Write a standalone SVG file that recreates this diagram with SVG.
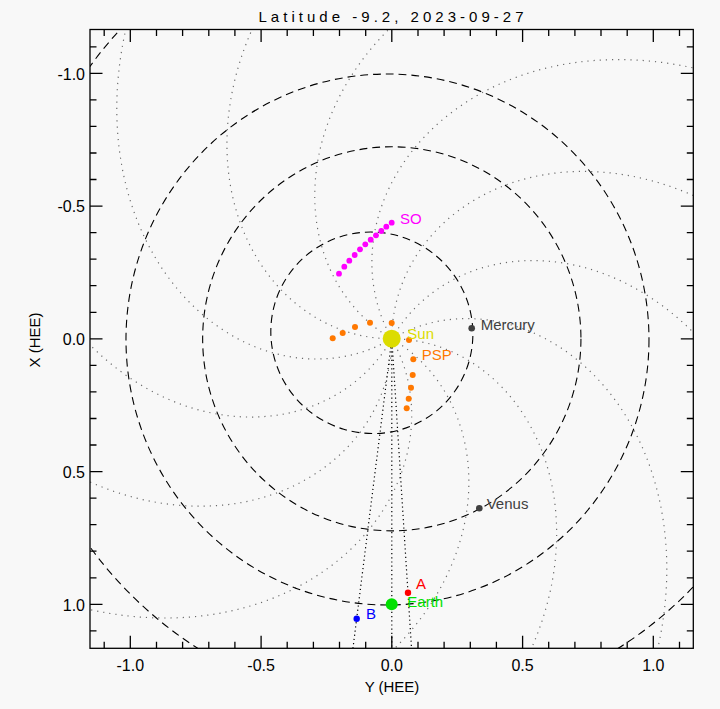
<svg xmlns="http://www.w3.org/2000/svg" xmlns:xlink="http://www.w3.org/1999/xlink" width="720" height="709" viewBox="0 0 720 709">
<style>
text{font-family:"Liberation Sans",Arial,sans-serif;font-size:15px;}
.spiral{fill:none;stroke:#6a6a6a;stroke-width:0.0045;stroke-dasharray:0.0045 0.019;}
.orbit{fill:none;stroke:#000;stroke-width:0.0042;stroke-dasharray:0.03 0.019;}
.conn{fill:none;stroke:#000;stroke-width:1.2;stroke-dasharray:1.2 3;}
.tick{fill:none;stroke:#000;stroke-width:1.3;}
.lbl{font-size:16px;}
.so{fill:#ff00ff;}
.psp{fill:#ff7800;}
</style>
<defs>
<clipPath id="plot" clipPathUnits="userSpaceOnUse"><rect x="90" y="29.5" width="603.3" height="618.8"/></clipPath>
<path id="sp" d="M0,0 C0.0667,0 0.1333,0.0119 0.1968,0.0354 C0.2604,0.0589 0.3207,0.0939 0.3749,0.1394 C0.4291,0.1849 0.4772,0.2408 0.5164,0.3054 C0.5557,0.37 0.5862,0.4432 0.6057,0.5227 C0.6251,0.6022 0.6336,0.6879 0.6294,0.7771 C0.6253,0.8662 0.6085,0.9588 0.5783,1.0515 C0.548,1.1442 0.5042,1.2371 0.4468,1.3268 C0.3893,1.4165 0.3182,1.503 0.234,1.5828 C0.1499,1.6626 0.0527,1.7358 -0.0562,1.7991"/>
</defs>
<rect width="720" height="709" fill="#f8f8f8"/>
<text x="391" y="21.5" text-anchor="middle" font-size="17" textLength="265" lengthAdjust="spacing" fill="#000">Latitude -9.2, 2023-09-27</text>

<g clip-path="url(#plot)">
 <g id="spirals" transform="matrix(261.5 0 0 265.5 391.8 338.8)">
  <use xlink:href="#sp" class="spiral"/>
  <use xlink:href="#sp" class="spiral" transform="rotate(30)"/>
  <use xlink:href="#sp" class="spiral" transform="rotate(60)"/>
  <use xlink:href="#sp" class="spiral" transform="rotate(90)"/>
  <use xlink:href="#sp" class="spiral" transform="rotate(120)"/>
  <use xlink:href="#sp" class="spiral" transform="rotate(150)"/>
  <use xlink:href="#sp" class="spiral" transform="rotate(180)"/>
  <use xlink:href="#sp" class="spiral" transform="rotate(210)"/>
  <use xlink:href="#sp" class="spiral" transform="rotate(240)"/>
  <use xlink:href="#sp" class="spiral" transform="rotate(270)"/>
  <use xlink:href="#sp" class="spiral" transform="rotate(300)"/>
  <use xlink:href="#sp" class="spiral" transform="rotate(330)"/>
 </g>
 <g id="orbits" transform="matrix(261.5 0 0 265.5 391.8 338.8)">
  <ellipse class="orbit" cx="-0.0763" cy="-0.0226" rx="0.387" ry="0.3788" transform="rotate(16.5 -0.0763 -0.0226)"/>
  <circle class="orbit" cx="0" cy="0" r="0.7233"/>
  <circle class="orbit" cx="-0.0165" cy="0.0026" r="1.0"/>
  <ellipse class="orbit" cx="0.0668" cy="-0.1256" rx="1.5237" ry="1.517" transform="rotate(118 0.0668 -0.1256)"/>
 </g>
 <g id="connectors">
  <line class="conn" x1="391.8" y1="338.8" x2="353.0" y2="648"/>
  <line class="conn" x1="391.8" y1="338.8" x2="391.8" y2="648"/>
  <line class="conn" x1="391.8" y1="338.8" x2="411.5" y2="648"/>
 </g>
</g>

<g id="so">
 <circle class="so" cx="391.7" cy="222.7" r="2.9"/>
 <circle class="so" cx="386.3" cy="226.7" r="2.9"/>
 <circle class="so" cx="381.3" cy="231" r="2.9"/>
 <circle class="so" cx="376" cy="235.3" r="2.9"/>
 <circle class="so" cx="370.7" cy="239.7" r="2.9"/>
 <circle class="so" cx="365.3" cy="244.3" r="2.9"/>
 <circle class="so" cx="360" cy="249.3" r="2.9"/>
 <circle class="so" cx="354.7" cy="255" r="2.9"/>
 <circle class="so" cx="349.3" cy="260.7" r="2.9"/>
 <circle class="so" cx="344.3" cy="266.7" r="2.9"/>
 <circle class="so" cx="339" cy="273.7" r="2.9"/>
 <text x="400" y="224" fill="#ff00ff">SO</text>
</g>
<g id="psp">
 <circle class="psp" cx="332.7" cy="338.3" r="3"/>
 <circle class="psp" cx="342.7" cy="333" r="3"/>
 <circle class="psp" cx="355" cy="327" r="3"/>
 <circle class="psp" cx="370" cy="322.7" r="3"/>
 <circle class="psp" cx="391.7" cy="323" r="3"/>
 <circle class="psp" cx="409" cy="340" r="3"/>
 <circle class="psp" cx="413.3" cy="359.3" r="3"/>
 <circle class="psp" cx="412.7" cy="375" r="3"/>
 <circle class="psp" cx="411" cy="387.7" r="3"/>
 <circle class="psp" cx="408.7" cy="398.7" r="3"/>
 <circle class="psp" cx="406.7" cy="408.3" r="3"/>
 <text x="421.7" y="360" fill="#ff7800">PSP</text>
</g>
<g id="sun">
 <circle cx="391.7" cy="338.7" r="9" fill="#dcdc00"/>
 <text x="407.3" y="339" fill="#dcdc00">Sun</text>
</g>
<g id="mercury">
 <circle cx="471.7" cy="328.3" r="3.3" fill="#404040"/>
 <text x="480.7" y="330" fill="#404040">Mercury</text>
</g>
<g id="venus">
 <circle cx="479.3" cy="508.3" r="3.3" fill="#404040"/>
 <text x="486.7" y="509" fill="#404040">Venus</text>
</g>
<g id="stereo-a">
 <circle cx="408" cy="592.7" r="3.2" fill="#ff0000"/>
 <text x="416" y="589" fill="#ff0000">A</text>
</g>
<g id="stereo-b">
 <circle cx="356.7" cy="618.7" r="3.2" fill="#0000ff"/>
 <text x="366" y="619.3" fill="#0000ff">B</text>
</g>
<g id="earth">
 <circle cx="391.7" cy="604.3" r="6" fill="#00e000"/>
 <text x="407.3" y="606.5" fill="#00e000">Earth</text>
</g>

<g id="axes">
 <rect x="90" y="29.5" width="603.3" height="618.8" fill="none" stroke="#000" stroke-width="1.3"/>
 <path class="tick" d="M104.2,648.3v-6.5 M130.3,648.3v-12.5 M156.5,648.3v-6.5 M182.6,648.3v-6.5 M208.8,648.3v-6.5 M234.9,648.3v-6.5 M261.1,648.3v-12.5 M287.2,648.3v-6.5 M313.4,648.3v-6.5 M339.5,648.3v-6.5 M365.7,648.3v-6.5 M391.8,648.3v-12.5 M418,648.3v-6.5 M444.1,648.3v-6.5 M470.3,648.3v-6.5 M496.4,648.3v-6.5 M522.6,648.3v-12.5 M548.7,648.3v-6.5 M574.9,648.3v-6.5 M601,648.3v-6.5 M627.2,648.3v-6.5 M653.3,648.3v-12.5 M679.5,648.3v-6.5"/>
 <path class="tick" d="M104.2,29.5v6.5 M130.3,29.5v12.5 M156.5,29.5v6.5 M182.6,29.5v6.5 M208.8,29.5v6.5 M234.9,29.5v6.5 M261.1,29.5v12.5 M287.2,29.5v6.5 M313.4,29.5v6.5 M339.5,29.5v6.5 M365.7,29.5v6.5 M391.8,29.5v12.5 M418,29.5v6.5 M444.1,29.5v6.5 M470.3,29.5v6.5 M496.4,29.5v6.5 M522.6,29.5v12.5 M548.7,29.5v6.5 M574.9,29.5v6.5 M601,29.5v6.5 M627.2,29.5v6.5 M653.3,29.5v12.5 M679.5,29.5v6.5"/>
 <path class="tick" d="M90,46.8h6.5 M90,73.3h12.5 M90,99.9h6.5 M90,126.4h6.5 M90,153h6.5 M90,179.5h6.5 M90,206.1h12.5 M90,232.6h6.5 M90,259.2h6.5 M90,285.7h6.5 M90,312.3h6.5 M90,338.8h12.5 M90,365.4h6.5 M90,391.9h6.5 M90,418.5h6.5 M90,445h6.5 M90,471.6h12.5 M90,498.1h6.5 M90,524.7h6.5 M90,551.2h6.5 M90,577.8h6.5 M90,604.3h12.5 M90,630.9h6.5"/>
 <path class="tick" d="M693.3,46.8h-6.5 M693.3,73.3h-12.5 M693.3,99.9h-6.5 M693.3,126.4h-6.5 M693.3,153h-6.5 M693.3,179.5h-6.5 M693.3,206.1h-12.5 M693.3,232.6h-6.5 M693.3,259.2h-6.5 M693.3,285.7h-6.5 M693.3,312.3h-6.5 M693.3,338.8h-12.5 M693.3,365.4h-6.5 M693.3,391.9h-6.5 M693.3,418.5h-6.5 M693.3,445h-6.5 M693.3,471.6h-12.5 M693.3,498.1h-6.5 M693.3,524.7h-6.5 M693.3,551.2h-6.5 M693.3,577.8h-6.5 M693.3,604.3h-12.5 M693.3,630.9h-6.5"/>
 <g fill="#000" text-anchor="end" class="lbl">
  <text class="lbl" x="85" y="79.5">-1.0</text>
  <text class="lbl" x="85" y="212.3">-0.5</text>
  <text class="lbl" x="85" y="345">0.0</text>
  <text class="lbl" x="85" y="477.8">0.5</text>
  <text class="lbl" x="85" y="610.5">1.0</text>
 </g>
 <g fill="#000" text-anchor="middle">
  <text class="lbl" x="130.3" y="671">-1.0</text>
  <text class="lbl" x="261.1" y="671">-0.5</text>
  <text class="lbl" x="391.8" y="671">0.0</text>
  <text class="lbl" x="522.6" y="671">0.5</text>
  <text class="lbl" x="653.3" y="671">1.0</text>
  <text x="392" y="692">Y (HEE)</text>
  <text transform="translate(40 340) rotate(-90)">X (HEE)</text>
 </g>
</g>
</svg>
